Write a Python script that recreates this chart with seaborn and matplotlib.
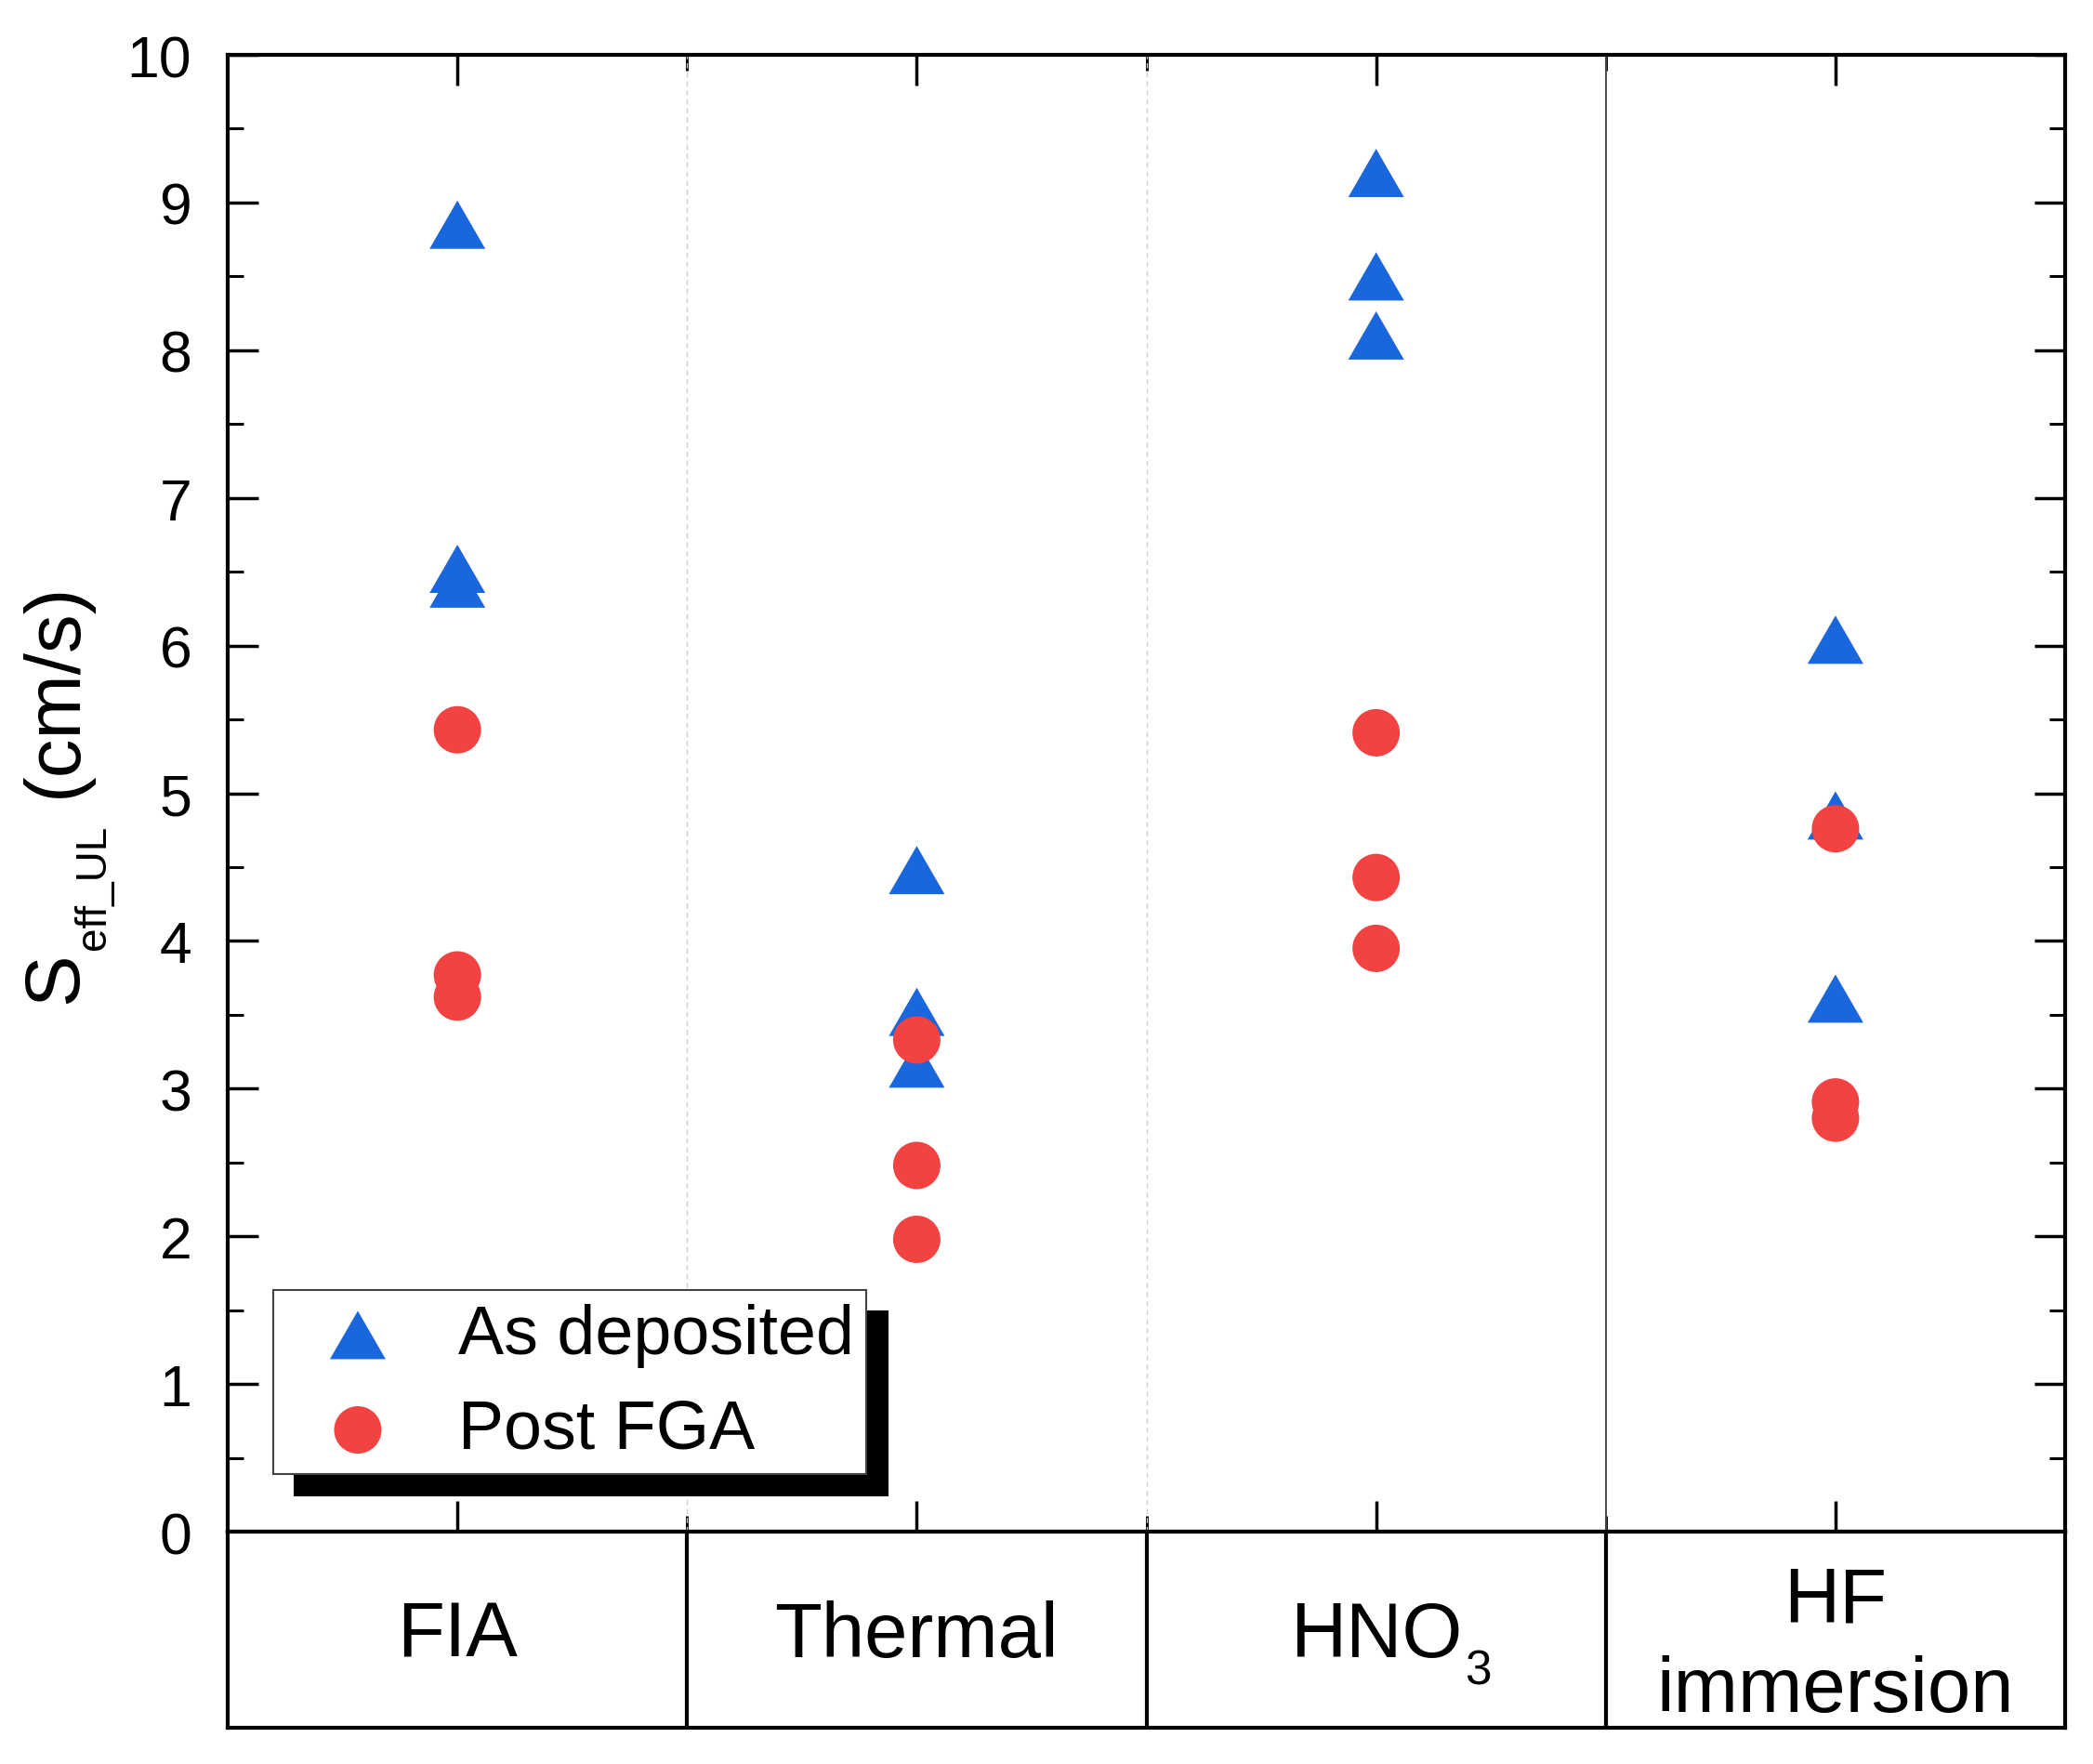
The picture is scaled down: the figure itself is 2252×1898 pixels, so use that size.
import numpy as np
import pandas as pd
import matplotlib
matplotlib.use('Agg')
import matplotlib.pyplot as plt
from matplotlib.ticker import MultipleLocator, FixedLocator
import seaborn as sns


treatments   = ['FIA', 'Thermal', 'HNO3', 'HF immersion']
boxLabels    = ['FIA', 'Thermal', 'HNO', 'HF\nimmersion']
boxSubs      = ['', '', '3', '']

asDeposited = {
    'FIA':          [8.85, 6.52, 6.42],
    'Thermal':      [4.48, 3.52, 3.17],
    'HNO3':         [9.20, 8.50, 8.10],
    'HF immersion': [6.04, 4.85, 3.61],
}
postFGA = {
    'FIA':          [5.43, 3.77, 3.62],
    'Thermal':      [3.33, 2.48, 1.98],
    'HNO3':         [5.41, 4.43, 3.95],
    'HF immersion': [4.76, 2.91, 2.80],
}

yTicks = list(range(0, 11))

blue = '#1a66dc'
red  = '#f34242'

figW, figH = 2252, 1899


def toFrame(values):
    rows = []
    for t in treatments:
        for v in values[t]:
            rows.append({'treatment': t, 'seff': v})
    return pd.DataFrame(rows)


def figPos(px, py):
    return px / figW, 1 - py / figH


sns.set_theme(style='ticks')
plt.rcParams['font.family'] = ['Liberation Sans', 'DejaVu Sans']
for key in ['text.color', 'axes.labelcolor', 'xtick.color', 'ytick.color', 'axes.edgecolor']:
    plt.rcParams[key] = 'black'

fig = plt.figure(figsize=(figW / 100, figH / 100), dpi=100)
fig.patch.set_facecolor('white')
ax  = fig.add_axes([0.1088, 0.1316, 0.8779, 0.8368])
axB = fig.add_axes([0.1088, 0.0205, 0.8779, 0.1111])

# equilateral triangle marker
triMarker = [(0, 0.866), (-1, -0.866), (1, -0.866), (0, 0.866)]

sns.scatterplot(data=toFrame(asDeposited), x='treatment', y='seff', ax=ax,
                marker=triMarker, s=60 ** 2 / 1.389 ** 2, color=blue,
                edgecolor='none', linewidth=0, label='As deposited', zorder=3)
sns.scatterplot(data=toFrame(postFGA), x='treatment', y='seff', ax=ax,
                marker='o', s=51 ** 2 / 1.389 ** 2, color=red,
                edgecolor='none', linewidth=0, label='Post FGA', zorder=4)

ax.set_xlim(-0.5, 3.5)
ax.set_ylim(0, 10)
ax.set_xlabel('')
ax.set_ylabel('')

# y label: S with a small subscript, then the unit
fig.text(*figPos(82, 1080), 'S', fontsize=60, rotation=90,
         rotation_mode='anchor', ha='left', va='baseline')
fig.text(*figPos(113, 1022), 'eff_UL', fontsize=33, rotation=90,
         rotation_mode='anchor', ha='left', va='baseline')
fig.text(*figPos(82, 858), '(cm/s)', fontsize=60, rotation=90,
         rotation_mode='anchor', ha='left', va='baseline')

ax.axvline(0.5, color='#d0d0d0', lw=1.0, ls=(0, (4, 3)), zorder=1)
ax.axvline(1.5, color='#d0d0d0', lw=1.0, ls=(0, (4, 3)), zorder=1)
ax.axvline(2.5, color='#4a4a4a', lw=1.4, zorder=1)

ax.xaxis.set_major_locator(FixedLocator([0, 1, 2, 3]))
ax.xaxis.set_minor_locator(FixedLocator([0.5, 1.5, 2.5]))
ax.set_xticklabels([])
ax.set_yticks(yTicks)
ax.yaxis.set_minor_locator(MultipleLocator(0.5))

ax.tick_params(axis='both', which='major', direction='in', length=24, width=2.5,
               top=True, right=True, labelsize=45, pad=28, color='black',
               labelcolor='black')
ax.tick_params(axis='both', which='minor', direction='in', length=12, width=2.2,
               top=True, right=True, color='black')
ax.tick_params(axis='x', which='both', labelbottom=False)
for sp in ax.spines.values():
    sp.set_linewidth(3)
    sp.set_color('black')
    sp.set_visible(True)

leg = ax.legend(loc='lower left', bbox_to_anchor=(0.025, 0.039), borderaxespad=0,
                frameon=True, fancybox=False, framealpha=1, fontsize=53,
                handlelength=2.1, handletextpad=0.42, borderpad=0.18, labelspacing=0.45,
                shadow={'ox': 16.5, 'oy': -16.5, 'facecolor': 'black',
                        'edgecolor': 'black', 'alpha': 1})
leg.get_frame().set_edgecolor('#444444')
leg.get_frame().set_linewidth(1.5)
leg.set_zorder(10)
for t in leg.get_texts():
    t.set_color('black')

# category box under the plot
axB.set_xlim(-0.5, 3.5)
axB.set_ylim(0, 1)
axB.set_xticks([])
axB.set_yticks([])
for sp in axB.spines.values():
    sp.set_linewidth(3)
    sp.set_color('black')
    sp.set_visible(True)
for b in [0.5, 1.5, 2.5]:
    axB.axvline(b, color='black', lw=3)
for i, lab in enumerate(boxLabels):
    yPos = 0.42 if '\n' in lab else 0.47
    txt = axB.text(i, yPos, lab, ha='center', va='center', fontsize=60, linespacing=1.3)
    if boxSubs[i]:
        axB.annotate(boxSubs[i], xy=(1, 0), xycoords=txt, xytext=(2, -9),
                     textcoords='offset points', fontsize=37, ha='left', va='baseline')

fig.savefig('out.png', dpi=100, facecolor='white')
